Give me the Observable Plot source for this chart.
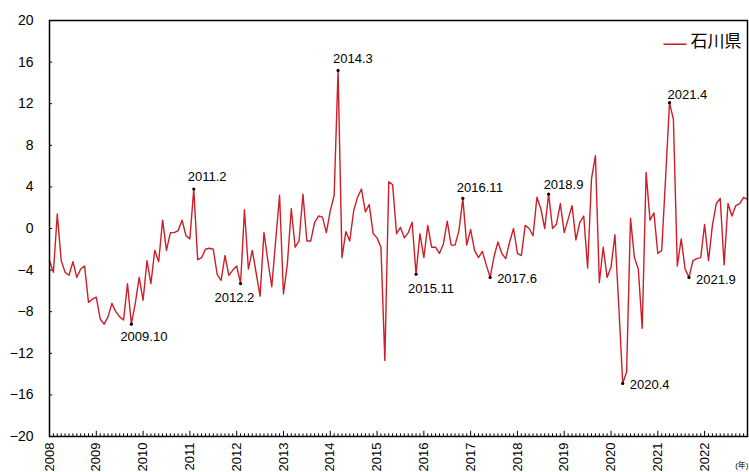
<!DOCTYPE html>
<html><head><meta charset="utf-8">
<script src="https://cdn.jsdelivr.net/npm/d3@7"></script>
<script src="https://cdn.jsdelivr.net/npm/@observablehq/plot@0.6"></script>
<style>body{margin:0;background:#fff}#chart svg{display:block}</style>
</head><body><div id="chart"></div>
<script>
const seriesName = "石川県";
const startYear = 2008;
const values = [
  -3.1,-4.2,1.4,-3.1,-4.2,-4.5,-3.2,-4.7,-3.9,-3.6,-7.1,-6.8,
  -6.6,-8.7,-9.2,-8.5,-7.2,-8.0,-8.5,-8.8,-5.3,-9.2,-7.2,-4.7,
  -6.9,-3.1,-5.3,-2.1,-3.2,0.8,-2.1,-0.4,-0.4,-0.2,0.8,-0.7,
  -1.0,3.8,-3.0,-2.8,-2.0,-1.9,-2.0,-4.4,-5.0,-2.6,-4.5,-4.0,
  -3.6,-5.3,1.8,-3.9,-2.1,-4.3,-6.5,-0.4,-3.1,-5.6,-1.2,3.2,
  -6.3,-3.4,1.9,-1.8,-1.2,3.3,-1.2,-1.2,0.6,1.2,1.1,-0.4,
  1.7,3.2,15.2,-2.8,-0.3,-1.2,1.7,3.0,3.8,1.6,2.3,-0.5,
  -0.9,-1.8,-12.7,4.5,4.2,-0.5,0.1,-0.9,-0.4,0.6,-4.4,-0.5,
  -2.8,0.3,-1.8,-1.8,-2.4,-1.5,0.7,-1.6,-1.6,-0.2,2.9,-1.6,
  -0.1,-2.1,-2.8,-2.2,-3.5,-4.7,-2.7,-1.3,-2.4,-2.9,-1.3,0.0,
  -2.4,-2.6,0.3,0.0,-0.7,3.0,1.9,0.0,3.3,0.0,0.4,2.4,
  -0.4,0.9,2.2,-1.1,0.6,1.2,-3.8,4.8,7.0,-5.2,-1.8,-4.7,
  -3.7,-0.6,-7.5,-14.9,-13.8,1.0,-2.8,-3.9,-9.6,5.4,0.8,1.5,
  -2.4,-2.1,4.9,12.1,10.5,-3.6,-1.0,-3.9,-4.7,-3.1,-2.9,-2.8,
  0.4,-3.1,0.3,2.4,2.9,-3.5,2.4,1.2,2.2,2.4,3.0,2.8
];
const yearLabels = ["2008","2009","2010","2011","2012","2013","2014","2015","2016","2017","2018","2019","2020","2021","2022"];
const yTicks = [-20,-16,-12,-8,-4,0,4,8,12,16,20];
const peakLabels = ["2009.10","2011.2","2012.2","2014.3","2015.11","2016.11","2017.6","2018.9","2020.4","2021.4","2021.9"];
const unitLabel = "(年)";

// layout (label offsets in px, relative to the marked point)
const placement = {
  "2009.10": [-11, 13], "2011.2": [-6, -12], "2012.2": [-26, 14], "2014.3": [-5, -12],
  "2015.11": [-8, 15], "2016.11": [-6, -11], "2017.6": [7, 1], "2018.9": [-5, -9],
  "2020.4": [7, 1], "2021.4": [-2, -8], "2021.9": [7, 2]
};

const rows = values.map((v, i) => ({i, v}));
const idxOf = s => { const [y, m] = s.split(".").map(Number); return (y - startYear) * 12 + m - 1; };
const peaks = peakLabels.map(label => ({label, i: idxOf(label), v: values[idxOf(label)]}));
const yearIdx = yearLabels.map((_, k) => k * 12);
const monthIdx = values.map((_, i) => i);
const red = "#cc1f27";
const font = "'Liberation Sans','Noto Sans CJK JP',sans-serif";

const chart = Plot.plot({
  width: 749, height: 472,
  marginLeft: 49, marginRight: 2, marginTop: 20, marginBottom: 36,
  style: {fontFamily: font, fontSize: "13px", color: "#000", background: "#fff"},
  x: {type: "linear", domain: [0, values.length - 1]},
  y: {domain: [-20, 20]},
  marks: [
    Plot.axisY({ticks: yTicks, tickSize: 0, tickPadding: 16, fontSize: 14, label: null,
      tickFormat: d => String(d).replace("-", "\u2212")}),
    Plot.axisX({ticks: yearIdx, tickFormat: i => yearLabels[Math.round(i / 12)], tickRotate: -90,
      tickSize: 0, tickPadding: 6, fontSize: 13, label: null}),
    Plot.ruleX(monthIdx, {x: d => d, y1: -20, y2: d => d % 12 === 0 ? -19.5 : -19.75, stroke: "#000", strokeWidth: 1}),
    Plot.ruleY(yTicks, {y: d => d, x1: 0, x2: 0.8, stroke: "#000"}),
    Plot.line(rows, {x: "i", y: "v", stroke: red, strokeWidth: 1.4}),
    Plot.dot(peaks, {x: "i", y: "v", r: 1.6, fill: "#000"}),
    ...peaks.map(p => Plot.text([p], {x: "i", y: "v", text: "label", textAnchor: "start",
      dx: placement[p.label][0], dy: placement[p.label][1], fontSize: 13, fill: "#000"})),
    Plot.frame({stroke: "#000", strokeWidth: 1.5}),
    Plot.text([seriesName], {frameAnchor: "top-right", textAnchor: "end", dx: -6, dy: 14, fontSize: 17, fill: "#000"}),
    Plot.text(["\u2014"], {frameAnchor: "top-right", textAnchor: "end", dx: -61, dy: 13, fontSize: 23, fill: red}),
    Plot.text([unitLabel], {frameAnchor: "bottom-right", textAnchor: "end", dx: 1, dy: 31, fontSize: 8, fill: "#000"})
  ]
});
document.getElementById("chart").appendChild(chart);
</script>
</body></html>
